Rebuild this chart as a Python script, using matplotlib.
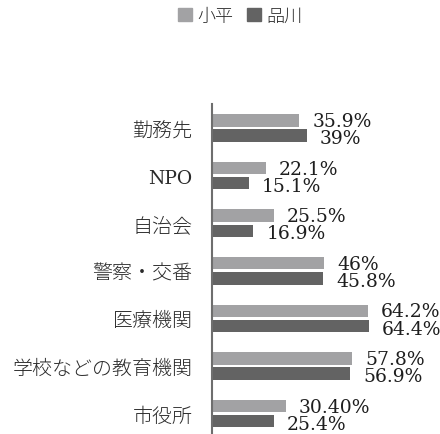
import matplotlib
matplotlib.use("Agg")
import matplotlib.pyplot as plt
import numpy as np
from matplotlib.patches import Patch

# Data
categories = ["勤務先", "NPO", "自治会", "警察・交番", "医療機関", "学校などの教育機関", "市役所"]
kodaira = [35.9, 22.1, 25.5, 46.0, 64.2, 57.8, 30.4]
shinagawa = [39.0, 15.1, 16.9, 45.8, 64.4, 56.9, 25.4]
kodaira_labels = ["35.9%", "22.1%", "25.5%", "46%", "64.2%", "57.8%", "30.40%"]
shinagawa_labels = ["39%", "15.1%", "16.9%", "45.8%", "64.4%", "56.9%", "25.4%"]
series_names = ["小平", "品川"]

light = "#a2a2a4"
dark = "#636363"

plt.rcParams['font.family'] = ['Noto Sans CJK JP', 'DejaVu Sans']

fig = plt.figure(figsize=(4.4, 4.35), dpi=100)
ax = fig.add_axes([0.4818, 0.0, 1 - 0.4818, 0.7586])

y = np.arange(len(categories))
h = 0.26
off = 0.16
ax.barh(y - off, kodaira, height=h, color=light, zorder=2)
ax.barh(y + off, shinagawa, height=h, color=dark, zorder=2)

# value labels
for yi, v, lab in zip(y, kodaira, kodaira_labels):
    ax.annotate(lab, (v, yi - off), xytext=(9.5, 1), textcoords="offset points",
                va="center_baseline", ha="left", fontsize=13.5, family="DejaVu Serif",
                color="#1e1e1e")
for yi, v, lab in zip(y, shinagawa, shinagawa_labels):
    ax.annotate(lab, (v, yi + off), xytext=(9.5, -0.5), textcoords="offset points",
                va="center_baseline", ha="left", fontsize=13.5, family="DejaVu Serif",
                color="#1e1e1e")

ax.set_xlim(0, 93.8)
ax.set_ylim(6.43, -0.504)
ax.set_yticks(y)
ax.set_yticklabels(categories, fontsize=14.4, color="#2a2a2a", fontweight="light")
for t in ax.get_yticklabels():
    if t.get_text() == "NPO":
        t.set_family("DejaVu Serif")
        t.set_fontsize(13.5)
        t.set_fontweight("normal")
ax.tick_params(axis="y", length=0, pad=14)
ax.xaxis.set_visible(False)
for s in ["top", "right", "bottom"]:
    ax.spines[s].set_visible(False)
ax.spines["left"].set_color("#6e6e6e")
ax.spines["left"].set_linewidth(1.5)

handles = [Patch(color=light), Patch(color=dark)]
fig.legend(handles, series_names, loc="center", bbox_to_anchor=(0.546, 0.962),
           ncol=2, frameon=False, handlelength=0.75, handleheight=0.75,
           handletextpad=0.3, columnspacing=0.8, labelcolor="#2a2a2a",
           prop={"weight": "light", "size": 13})

fig.savefig("out.png", dpi=100)
